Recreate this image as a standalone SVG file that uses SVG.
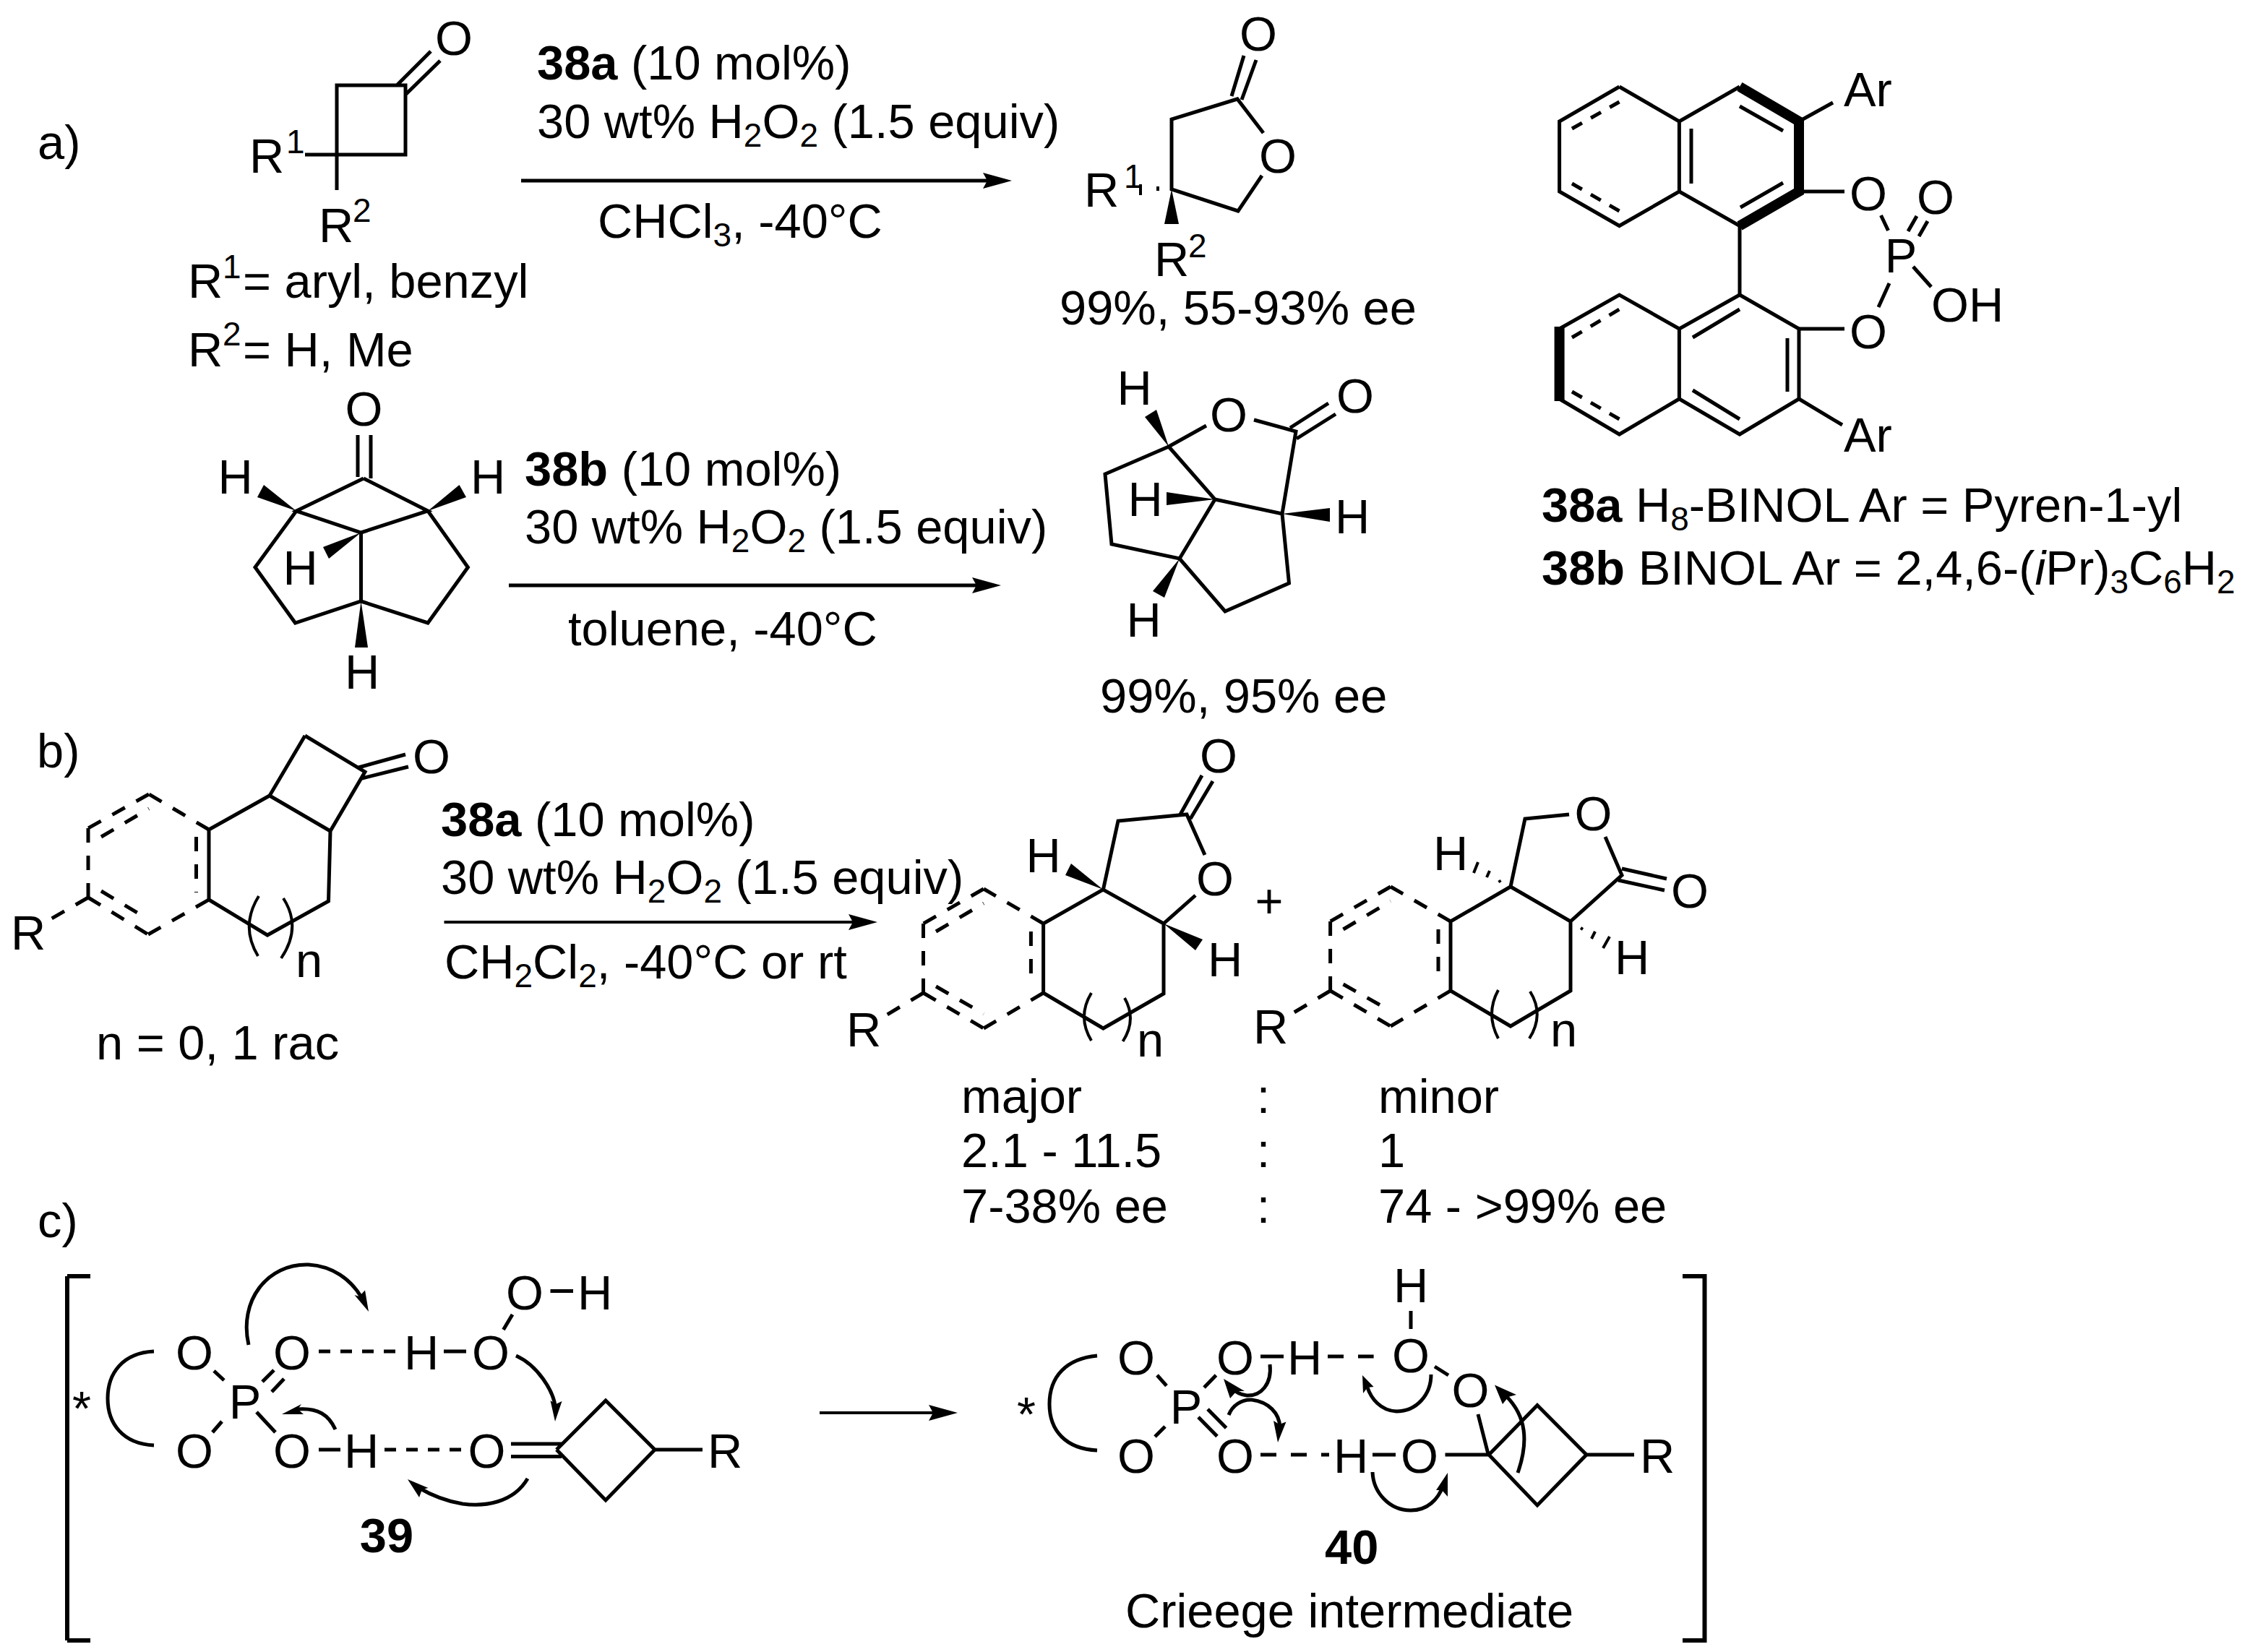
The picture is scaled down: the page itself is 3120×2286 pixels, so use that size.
<svg xmlns="http://www.w3.org/2000/svg" width="3120" height="2286" viewBox="0 0 3120 2286">
<style>
text{font-family:"Liberation Sans",Arial,sans-serif;font-size:66.800px;fill:#000}
.m{text-anchor:middle}
.b{font-weight:bold}
.s{font-size:46px}
.i{font-style:italic}
.l{stroke:#000;stroke-width:5;fill:none;stroke-linejoin:miter}
.n{stroke:#000;stroke-width:4;fill:none}
.t{stroke:#000;stroke-width:14;fill:none;stroke-linejoin:miter}
.d{stroke:#000;stroke-width:5;fill:none;stroke-dasharray:20 18}
.w{fill:#000;stroke:none}
</style>
<defs>
<marker id="rxn" markerUnits="userSpaceOnUse" viewBox="0 0 40 24" refX="30" refY="12" markerWidth="40" markerHeight="24" orient="auto"><path d="M0,1 L40,12 L0,23 L6,12 Z" fill="#000"/></marker>
</defs>
<rect width="3120" height="2286" fill="#fff"/>

<g id="labels">
<text x="52" y="220">a)</text>
<text x="51" y="1062">b)</text>
<text x="52" y="1712">c)</text>
</g>

<g id="sm-a">
<path class="l" d="M466,214V118H561V214H422M466,214V263M550,117L596,71M562,130L609,84"/>
<text class="m" x="628" y="76">O</text>
<text x="345" y="239">R</text><text class="s" x="396" y="212">1</text>
<text x="441" y="335">R</text><text class="s" x="488" y="307">2</text>
<text x="260" y="412">R</text><text class="s" x="308" y="385">1</text><text x="336" y="412">= aryl, benzyl</text>
<text x="260" y="507">R</text><text class="s" x="308" y="478">2</text><text x="336" y="507">= H, Me</text>
</g>

<g id="cond-a">
<text x="743" y="110"><tspan class="b">38a</tspan> (10 mol%)</text>
<text x="743" y="191">30 wt% H<tspan class="s" dy="12">2</tspan><tspan dy="-12">O</tspan><tspan class="s" dy="12">2</tspan><tspan dy="-12"> (1.5 equiv)</tspan></text>
<text x="827" y="329">CHCl<tspan class="s" dy="12">3</tspan><tspan dy="-12">, -40°C</tspan></text>
</g>

<g id="prod-a">
<path class="l" d="M1748,184L1712,137L1621,165V262L1713,292L1746,243M1704,133L1721,77M1718,138L1738,83"/>
<path class="n" d="M1578,255V270M1602,258V264"/>
<polygon class="w" points="1621,262 1611,310 1631,310"/>
<text class="m" x="1741" y="70">O</text>
<text class="m" x="1768" y="239">O</text>
<text x="1500" y="286">R</text><text class="s" x="1555" y="260">1</text>
<text x="1597" y="382">R</text><text class="s" x="1644" y="356">2</text>
<text x="1466" y="449">99%, 55-93% ee</text>
</g>

<g id="binol">
<path class="l" d="M2240.500,120L2157.600,168V265L2240.500,312.500L2323.400,265V168L2240.500,120M2323.400,168L2407,120M2323.400,265L2407,312.500V408M2489,168L2536,142M2489,265H2552M2602.500,298L2612.500,319M2640,320L2652,299M2655,327L2667,306M2647,369L2672,397M2614,392L2599,425M2489,455H2552M2489,552L2549,588M2340,178V254M2407,147L2467,181M2467,253L2408,287"/>
<path class="t" d="M2407,120L2489,168V265L2407,312.500"/>
<path class="l" d="M2407,408L2489,455V552L2407,601L2323.400,552V455L2407,408M2323.400,455L2240.500,408L2157.600,455M2157.600,552L2240.500,601L2323.400,552M2342,467L2407,428M2473,468V542M2342,540L2407,580"/>
<path class="t" d="M2157.600,452V555"/>
<path class="d" style="stroke-dasharray:16 14" d="M2175,178L2240.500,141M2175,254L2240.500,292M2175,467L2240.500,428M2175,542L2240.500,580"/>
<text x="2551" y="147">Ar</text>
<text x="2551" y="625">Ar</text>
<text class="m" x="2585" y="291">O</text>
<text class="m" x="2678" y="296">O</text>
<text class="m" x="2630" y="377">P</text>
<text x="2672" y="445">OH</text>
<text class="m" x="2585" y="482">O</text>
<text x="2133" y="722"><tspan class="b">38a</tspan> H<tspan class="s" dy="12">8</tspan><tspan dy="-12">-BINOL Ar = Pyren-1-yl</tspan></text>
<text x="2133" y="809"><tspan class="b">38b</tspan> BINOL Ar = 2,4,6-(<tspan class="i">i</tspan>Pr)<tspan class="s" dy="12">3</tspan><tspan dy="-12">C</tspan><tspan class="s" dy="12">6</tspan><tspan dy="-12">H</tspan><tspan class="s" dy="12">2</tspan></text>
</g>

<g id="sm-b">
<path class="l" d="M495,602V660M513,602V662M503,662L410,707L499.500,737L592,707L503,662M410,707L353,785L408.500,862L499.500,832L592,862L647.400,785L592,707M499.500,737V832"/>
<polygon class="w" points="410,707 365,671 356,688"/>
<polygon class="w" points="592,707 635.500,671 645,688"/>
<polygon class="w" points="499.500,737 447,757 455,773"/>
<polygon class="w" points="499.500,832 491,896 509,896"/>
<text class="m" x="503.500" y="589">O</text>
<text class="m" x="325.500" y="683">H</text>
<text class="m" x="675" y="683">H</text>
<text class="m" x="415.600" y="809">H</text>
<text class="m" x="501" y="953">H</text>
</g>

<g id="cond-b">
<text x="726" y="672"><tspan class="b">38b</tspan> (10 mol%)</text>
<text x="726" y="752">30 wt% H<tspan class="s" dy="12">2</tspan><tspan dy="-12">O</tspan><tspan class="s" dy="12">2</tspan><tspan dy="-12"> (1.5 equiv)</tspan></text>
<text x="786" y="893">toluene, -40°C</text>
</g>

<g id="prod-b">
<path class="l" d="M1669,589L1617,618L1529,656L1538,753L1632,773L1681,691L1617,618M1681,691L1774,711L1793,597L1735,581M1632,773L1695,846L1783.500,807L1774,711M1785,592L1838,558M1794,607L1848,573"/>
<polygon class="w" points="1617,618 1584,577 1600,567"/>
<polygon class="w" points="1681,691 1614,681 1614,699"/>
<polygon class="w" points="1774,711 1840,703 1840,722"/>
<polygon class="w" points="1632,773 1595,818 1611,827"/>
<text class="m" x="1700" y="597">O</text>
<text class="m" x="1875" y="571">O</text>
<text class="m" x="1569.500" y="560">H</text>
<text class="m" x="1584.500" y="714">H</text>
<text class="m" x="1871" y="738">H</text>
<text class="m" x="1582.500" y="881">H</text>
<text x="1522" y="986">99%, 95% ee</text>
</g>

<g id="sm-c">
<path class="l" d="M422,1018L505,1068L457,1150L373,1101L422,1018M496,1062L561,1044M501,1077L565,1061M373,1101L289,1148V1245L370,1294L454.500,1247L457,1150"/>
<path class="d" d="M206,1099L122,1146M122,1146V1242M122,1242L205,1293M205,1293L289,1245M289,1148L206,1099M140,1158L206,1119M140,1233L205,1272M271.500,1158V1235M122,1242L68,1273"/>
<path class="n" d="M358,1240Q332,1282 357,1323M392,1243Q418,1283 389,1326"/>
<text class="m" x="597" y="1070">O</text>
<text x="15" y="1314">R</text>
<text x="409" y="1352">n</text>
<text x="133" y="1466">n = 0, 1 rac</text>
</g>

<g id="cond-c">
<text x="610" y="1157"><tspan class="b">38a</tspan> (10 mol%)</text>
<text x="610" y="1237">30 wt% H<tspan class="s" dy="12">2</tspan><tspan dy="-12">O</tspan><tspan class="s" dy="12">2</tspan><tspan dy="-12"> (1.5 equiv)</tspan></text>
<text x="615" y="1354">CH<tspan class="s" dy="12">2</tspan><tspan dy="-12">Cl</tspan><tspan class="s" dy="12">2</tspan><tspan dy="-12">, -40°C or rt</tspan></text>
</g>

<g id="prod-major">
<path class="l" d="M1443.600,1278V1374L1526.400,1423L1610,1375V1278L1526.400,1231L1443.600,1278M1526.400,1231L1547,1136L1642,1127L1667,1183M1610,1278L1654,1239M1633,1127L1663,1073M1647,1133L1678,1081"/>
<path class="d" d="M1361,1230L1277.500,1278M1277.500,1278V1374M1277.500,1374L1361,1423M1361,1423L1443.600,1374M1443.600,1278L1361,1230M1295,1289L1361,1250M1295,1365L1361,1403M1426.400,1289V1364M1277.500,1374L1224,1406"/>
<path class="n" d="M1510,1374Q1490,1407 1510,1440M1556,1381Q1573,1411 1553.600,1441"/>
<polygon class="w" points="1526.400,1231 1482,1195 1474,1211"/>
<polygon class="w" points="1610,1278 1664,1300 1654,1315"/>
<text class="m" x="1686" y="1069">O</text>
<text class="m" x="1681" y="1239">O</text>
<text class="m" x="1443.600" y="1207">H</text>
<text x="1671" y="1351">H</text>
<text x="1171" y="1448">R</text>
<text x="1573" y="1462">n</text>
</g>

<text class="m" x="1756" y="1270">+</text>

<g id="prod-minor">
<path class="l" d="M2007,1275V1371L2090,1420L2173,1371V1275L2090,1227L2007,1275M2090,1227L2110,1133L2171,1127M2221,1158L2244,1211L2173,1275M2244,1202L2306,1216M2239,1218L2303,1232"/>
<path class="d" d="M1924,1227L1840.600,1275M1840.600,1275V1371M1840.600,1371L1924,1420M1924,1420L2007,1371M2007,1275L1924,1227M1858.500,1286L1924,1247M1858.500,1362L1924,1399M1990,1286V1362M1840.600,1371L1787,1403"/>
<path class="n" d="M2073,1370Q2055,1403 2073,1437M2117,1372Q2137,1404 2116,1437"/>
<path class="n" d="M2074,1218L2076,1221M2061,1205L2057,1214M2045,1193L2039,1208M2187,1284L2190,1286M2207,1289L2202,1299M2227,1296L2218,1312"/>
<text class="m" x="2204.500" y="1149">O</text>
<text class="m" x="2338" y="1256">O</text>
<text x="1983" y="1204">H</text>
<text x="2234" y="1348">H</text>
<text x="1734" y="1444">R</text>
<text x="2145" y="1448">n</text>
</g>

<g id="table">
<text x="1330" y="1540">major</text><text class="m" x="1748" y="1540">:</text><text x="1907" y="1540">minor</text>
<text x="1330" y="1615">2.1 - 11.5</text><text class="m" x="1748" y="1615">:</text><text x="1907" y="1615">1</text>
<text x="1330" y="1692">7-38% ee</text><text class="m" x="1748" y="1692">:</text><text x="1907" y="1692">74 - &gt;99% ee</text>
</g>

<g id="ts-39">
<path class="l" d="M93,1766H125M93,1766V2270M93,2270H125" style="stroke-width:6"/>
<path class="l" d="M213,1870C170,1872 149,1900 149,1935C149,1970 170,1998 213,2000"/>
<path class="l" d="M296,1897L310,1910M379,1896L363,1912M393,1908L376,1926M307,1967L294,1982M355,1954L381,1982M614,1870H645M709,1819L696.500,1840M761.500,1786.500H793M441,2006H471M707,1998H777M707,2015.500H777M770,2006L838,1938L906,2006L838,2076L770,2006M906,2006H972"/>
<path class="d" style="stroke-dasharray:16 14" d="M441,1870H554M532,2006H640"/>
<text class="m" x="113" y="1972">*</text>
<text class="m" x="269" y="1895">O</text>
<text class="m" x="404" y="1895">O</text>
<text class="m" x="339" y="1963">P</text>
<text class="m" x="269" y="2031">O</text>
<text class="m" x="404" y="2031">O</text>
<text class="m" x="583" y="1895">H</text>
<text class="m" x="679" y="1895">O</text>
<text class="m" x="726" y="1812">O</text>
<text class="m" x="823" y="1812">H</text>
<text class="m" x="500" y="2031">H</text>
<text class="m" x="673.500" y="2031">O</text>
<text x="979" y="2031">R</text>
<text class="m b" x="535" y="2148">39</text>
</g>

<g id="ts-40">
<path class="l" d="M2328,1766H2358.500V2270H2328" style="stroke-width:6"/>
<path class="l" d="M1518,1876C1475,1880 1452,1905 1452,1943C1452,1980 1475,2005 1518,2007"/>
<path class="l" d="M1601,1903L1614,1917.600M1682.500,1903L1666,1920M1612,1974L1598,1988M1658,1961L1684,1987.600M1671,1950L1696.600,1976M1744,1877H1776M1952,1814V1839M1985,1891L2004,1903M2045,1957L2059,2012M1899,2013H1931M1999.500,2013H2060M2060,2013L2127,1944.500L2195,2013L2127,2083L2060,2013M2195,2013H2261"/>
<path class="d" style="stroke-dasharray:22 20" d="M1837,1877H1900.600M1744,2013H1839"/>
<text class="m" x="1420" y="1980">*</text>
<text class="m" x="1572" y="1902">O</text>
<text class="m" x="1709" y="1902">O</text>
<text class="m" x="1641" y="1970">P</text>
<text class="m" x="1572" y="2038">O</text>
<text class="m" x="1709" y="2038">O</text>
<text class="m" x="1805" y="1902">H</text>
<text class="m" x="1952" y="1899">O</text>
<text class="m" x="1952" y="1802">H</text>
<text class="m" x="2034.500" y="1947">O</text>
<text class="m" x="1869" y="2038">H</text>
<text class="m" x="1964" y="2038">O</text>
<text x="2269" y="2038">R</text>
<text class="b" x="1833" y="2164">40</text>
<text x="1557" y="2252">Crieege intermediate</text>
</g>

<g id="connectors">
<path class="l" d="M721,250H1390" marker-end="url(#rxn)"/>
<path class="l" d="M704,810H1375" marker-end="url(#rxn)"/>
<path class="n" d="M614.500,1276H1204" marker-end="url(#rxn)"/>
<path class="n" d="M1134,1955H1315" marker-end="url(#rxn)"/>

<path class="l" d="M344,1861C330,1800 370,1748 427,1750C460,1752 485,1770 500,1795"/>
<polygon class="w" points="510,1815 490.500,1792 497,1794 505,1785.500"/>
<path class="l" d="M714,1876C745,1890 765,1925 768,1945"/>
<polygon class="w" points="768,1967 761.500,1938 769,1943 777.500,1939"/>
<path class="l" d="M464,1978C455,1958 440,1948 412,1950"/>
<polygon class="w" points="390,1957 417,1943 412,1950 420,1957"/>
<path class="l" d="M730,2046C710,2080 670,2085 640,2081C615,2077 595,2068 578,2058"/>
<polygon class="w" points="564,2047 592.500,2059 584,2061 580,2072"/>

<path class="l" d="M1757,1888C1760,1915 1745,1932 1725,1931C1715,1930 1708,1925 1703,1920"/>
<polygon class="w" points="1693,1908 1722,1925 1711,1925 1702,1935"/>
<path class="l" d="M1700,1958C1705,1945 1718,1936 1732,1937C1755,1940 1770,1955 1771,1975"/>
<polygon class="w" points="1768,1996 1762,1966 1770,1971 1779.500,1967.600"/>
<path class="l" d="M1980,1902C1980,1930 1960,1953 1932,1953C1910,1952 1897,1935 1892,1920"/>
<polygon class="w" points="1885,1903 1900.600,1919 1892,1920 1886,1928"/>
<path class="l" d="M2100,2038C2115,1995 2112,1960 2084,1932"/>
<polygon class="w" points="2068,1916.500 2098,1930 2087,1933 2079,1943"/>
<path class="l" d="M1899,2037C1900,2065 1922,2090 1952,2090C1975,2090 1990,2075 1997,2055"/>
<polygon class="w" points="2003,2038 2003,2071 1995,2062 1987,2062"/>
</g>
</svg>
